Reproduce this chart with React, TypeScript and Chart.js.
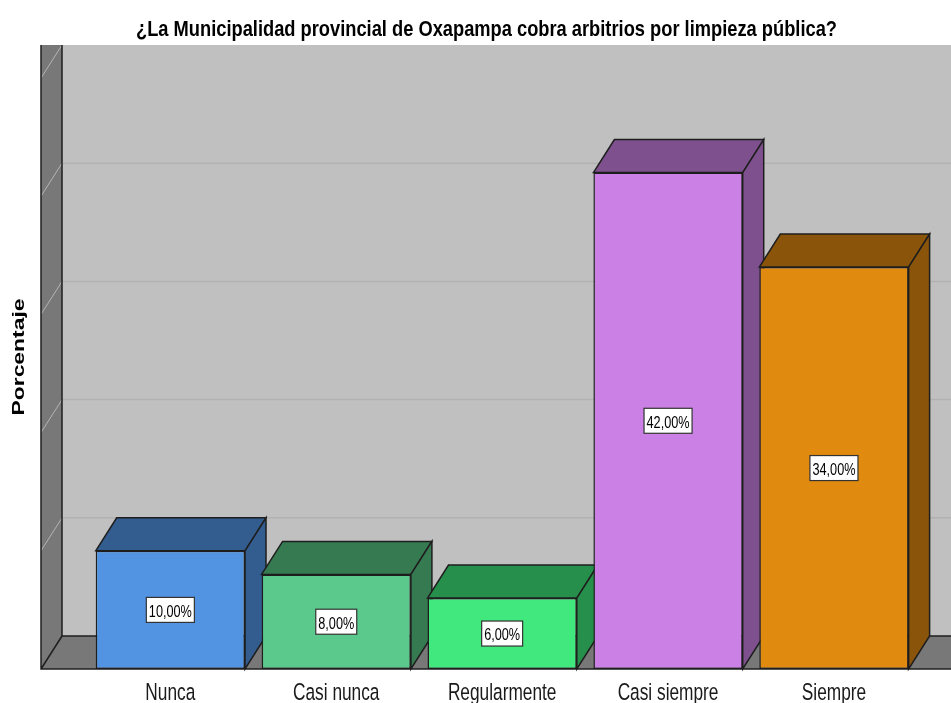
import React, { useEffect, useRef } from "react";
import { Chart, registerables } from "chart.js";

Chart.register(...registerables);

// ---- data ----
const categories = ["Nunca", "Casi nunca", "Regularmente", "Casi siempre", "Siempre"];
const percentages = [10, 8, 6, 42, 34];
const frontColors = ["#5294e2", "#5ac98b", "#40e87e", "#ca80e4", "#e08a10"];
const shadeColors = ["#335c8f", "#357a50", "#268f4b", "#7e518e", "#8a540a"];
const gridValues = [10, 20, 30, 40, 50];
const chartTitle = "¿La Municipalidad provincial de Oxapampa cobra arbitrios por limpieza pública?";
const yAxisTitle = "Porcentaje";
const Y_MAX = 50;

// ---- style constants ----
const W = 951;
const H = 703;
const DEPTH_X = 21;
const DEPTH_Y = 33;
const WALL_OFFSET = 46.4;
const EDGE = "#1e1e1e";
const WALL_DARK = "#787878";
const BACK_WALL = "#c0c0c0";

function fmt(v: number) {
  return v.toFixed(2).replace(".", ",") + "%";
}

function stretchedText(
  ctx: CanvasRenderingContext2D,
  text: string,
  x: number,
  y: number,
  font: string,
  sx: number,
  sy: number,
  rot = 0,
  color = "#000"
) {
  ctx.save();
  ctx.translate(x, y);
  if (rot) ctx.rotate(rot);
  ctx.scale(sx, sy);
  ctx.font = font;
  ctx.textAlign = "center";
  ctx.textBaseline = "alphabetic";
  ctx.fillStyle = color;
  ctx.fillText(text, 0, 0);
  ctx.restore();
}

function poly(ctx: CanvasRenderingContext2D, pts: number[][], fill: string | null, stroke: string | null, lw = 1.5) {
  ctx.beginPath();
  ctx.moveTo(pts[0][0], pts[0][1]);
  for (let i = 1; i < pts.length; i++) ctx.lineTo(pts[i][0], pts[i][1]);
  ctx.closePath();
  if (fill) {
    ctx.fillStyle = fill;
    ctx.fill();
  }
  if (stroke) {
    ctx.strokeStyle = stroke;
    ctx.lineWidth = lw;
    ctx.lineJoin = "miter";
    ctx.stroke();
  }
}

const box3dPlugin = {
  id: "box3d",
  beforeDatasetsDraw(chart: any) {
    const { ctx, chartArea, scales } = chart;
    const y = scales.y;
    const front = chartArea.bottom;
    const back = front - DEPTH_Y;
    const wallFront = chartArea.left - WALL_OFFSET;
    const wallBack = wallFront + DEPTH_X;
    const top = y.getPixelForValue(Y_MAX) - DEPTH_Y;
    ctx.save();
    // back wall
    ctx.fillStyle = BACK_WALL;
    ctx.fillRect(wallBack, top, W - wallBack, back - top);
    // gridlines on back wall
    ctx.strokeStyle = "#b2b2b2";
    ctx.lineWidth = 1.5;
    gridValues.forEach((v) => {
      const gy = y.getPixelForValue(v) - DEPTH_Y;
      if (v < Y_MAX) {
        ctx.beginPath();
        ctx.moveTo(wallBack, gy);
        ctx.lineTo(W, gy);
        ctx.stroke();
      }
    });
    // left wall
    ctx.fillStyle = WALL_DARK;
    ctx.fillRect(wallFront, top, DEPTH_X, front - top);
    // floor
    poly(ctx, [[wallFront, front], [wallBack, back], [W, back], [W, front]], WALL_DARK, null);
    // diagonals on left wall
    ctx.strokeStyle = "#b4b4b4";
    ctx.lineWidth = 1;
    gridValues.forEach((v) => {
      const gy = y.getPixelForValue(v) - DEPTH_Y;
      ctx.beginPath();
      ctx.moveTo(wallBack, gy);
      ctx.lineTo(wallFront, gy + DEPTH_Y);
      ctx.stroke();
    });
    // edges
    ctx.strokeStyle = EDGE;
    ctx.lineWidth = 1.5;
    ctx.beginPath();
    ctx.moveTo(wallFront, top);
    ctx.lineTo(wallFront, front);
    ctx.lineTo(W, front);
    ctx.moveTo(wallBack, top);
    ctx.lineTo(wallBack, back);
    ctx.lineTo(W, back);
    ctx.moveTo(wallFront, front);
    ctx.lineTo(wallBack, back);
    ctx.stroke();

    // bar top and side faces
    const meta = chart.getDatasetMeta(0);
    meta.data.forEach((bar: any, i: number) => {
      const { x, y: by, base, width } = bar.getProps(["x", "y", "base", "width"], true);
      const l = x - width / 2;
      const r = x + width / 2;
      const shade = shadeColors[i];
      poly(ctx, [[l, by], [l + DEPTH_X, by - DEPTH_Y], [r + DEPTH_X, by - DEPTH_Y], [r, by]], shade, EDGE);
      poly(ctx, [[r, by], [r + DEPTH_X, by - DEPTH_Y], [r + DEPTH_X, base - DEPTH_Y], [r, base]], shade, EDGE);
    });
    ctx.restore();
  },
  afterDatasetsDraw(chart: any) {
    const { ctx } = chart;
    const meta = chart.getDatasetMeta(0);
    ctx.save();
    meta.data.forEach((bar: any, i: number) => {
      const { x, y: by, base } = bar.getProps(["x", "y", "base"], true);
      const cy = (by + base) / 2;
      const label = fmt(percentages[i]);
      const font = "12.7px 'Liberation Sans', Arial, sans-serif";
      ctx.font = font;
      const tw = ctx.measureText(label).width;
      const bw = tw + 5;
      const bh = 25;
      ctx.fillStyle = "#ffffff";
      ctx.fillRect(x - bw / 2, cy - bh / 2, bw, bh);
      ctx.strokeStyle = "#333";
      ctx.lineWidth = 1.2;
      ctx.strokeRect(x - bw / 2, cy - bh / 2, bw, bh);
      stretchedText(ctx, label, x, cy + 6.8, font, 1, 1.24, 0, "#000");
    });
    ctx.restore();
  },
  afterDraw(chart: any) {
    const { ctx, scales } = chart;
    const xs = scales.x;
    // title
    stretchedText(ctx, chartTitle, 486.5, 35.5, "bold 18.3px 'Liberation Sans', Arial, sans-serif", 1, 1.2, 0, "#000");
    // y axis title
    stretchedText(ctx, yAxisTitle, 24, 357, "bold 16px 'Liberation Sans', Arial, sans-serif", 1.43, 1, -Math.PI / 2, "#000");
    // category labels
    categories.forEach((c, i) => {
      const px = xs.getPixelForValue(i);
      stretchedText(ctx, c, px, 700, "17.3px 'Liberation Sans', Arial, sans-serif", 1, 1.37, 0, "#1a1a1a");
    });
  },
};

export default function App() {
  const ref = useRef<HTMLCanvasElement | null>(null);
  useEffect(() => {
    if (!ref.current) return;
    const chart = new Chart(ref.current, {
      type: "bar",
      data: {
        labels: categories,
        datasets: [
          {
            label: yAxisTitle,
            data: percentages,
            backgroundColor: frontColors,
            borderColor: EDGE,
            borderWidth: 1.5,
            borderSkipped: false,
            barPercentage: 0.9,
            categoryPercentage: 1,
          },
        ],
      },
      options: {
        animation: false,
        responsive: false,
        devicePixelRatio: 1,
        layout: { padding: { left: 87.4, right: 34.1, top: 78, bottom: 34 } },
        scales: {
          x: { display: false },
          y: { display: false, min: 0, max: Y_MAX },
        },
        plugins: {
          legend: { display: false },
          title: { display: false, text: chartTitle },
          tooltip: { enabled: false },
        },
      },
      plugins: [box3dPlugin],
    });
    return () => chart.destroy();
  }, []);
  return (
    <div style={{ position: "absolute", left: 0, top: 0, width: W, height: H, background: "#fff" }}>
      <canvas ref={ref} width={W} height={H} style={{ display: "block" }} />
    </div>
  );
}
